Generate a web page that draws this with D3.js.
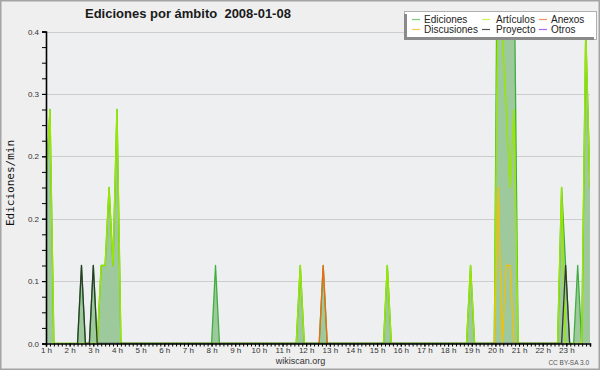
<!DOCTYPE html>
<html>
<head>
<meta charset="utf-8">
<script src="https://cdnjs.cloudflare.com/ajax/libs/d3/7.8.5/d3.min.js"></script>
<style>
body { margin: 0; background: #efefef; }
svg { display: block; }
</style>
</head>
<body>
<script>
"use strict"

// hours (decimal) and edits per minute
const ediciones = [
	[1.0, 0.2], [1.167, 0.3], [1.333, 0],
	[2.333, 0], [2.5, 0.1], [2.667, 0],
	[2.833, 0], [3.0, 0.1], [3.167, 0], [3.333, 0.1], [3.5, 0.1], [3.667, 0.2], [3.833, 0.1], [4.0, 0.3], [4.167, 0],
	[8.0, 0], [8.167, 0.1], [8.333, 0],
	[11.58, 0], [11.75, 0.1], [11.92, 0],
	[12.55, 0], [12.72, 0.1], [12.89, 0],
	[15.27, 0], [15.43, 0.1], [15.6, 0],
	[18.78, 0], [18.95, 0.1], [19.12, 0],
	[19.955, 0], [20.12, 0.7], [20.29, 0.7], [20.46, 0.6], [20.62, 0.6], [20.79, 0.5], [20.96, 0],
	[22.63, 0], [22.8, 0.2], [22.97, 0.1], [23.14, 0],
	[23.31, 0], [23.48, 0.1], [23.65, 0], [23.82, 0.4], [24.0, 0.2]
];
const articulos = [
	[1.0, 0.2], [1.167, 0.3], [1.333, 0],
	[3.167, 0], [3.333, 0.1], [3.5, 0.1], [3.667, 0.2], [3.833, 0.1], [4.0, 0.3], [4.167, 0],
	[11.58, 0], [11.75, 0.1], [11.92, 0],
	[15.27, 0], [15.43, 0.1], [15.6, 0],
	[18.78, 0], [18.95, 0.1], [19.12, 0],
	[19.955, 0], [20.12, 0.5], [20.29, 0.4], [20.46, 0.3], [20.62, 0.2], [20.79, 0.3], [20.96, 0],
	[22.63, 0], [22.8, 0.2], [22.97, 0],
	[23.65, 0], [23.82, 0.4], [24.0, 0.2]
];
const anexos = [[12.55, 0], [12.72, 0.1], [12.89, 0]];
const discusiones = [[19.955, 0], [20.12, 0.2], [20.29, 0], [20.46, 0.1], [20.62, 0.1], [20.79, 0]];
const proyecto = [
	[2.333, 0], [2.5, 0.1], [2.667, 0],
	[2.833, 0], [3.0, 0.1], [3.167, 0],
	[22.8, 0], [22.97, 0.1], [23.14, 0]
];
const otros = [];

const yTicks = [0, 0.08, 0.16, 0.24, 0.32, 0.4];
const hourTicks = d3.range(1, 24);
const legendNames = ["Ediciones", "Artículos", "Anexos", "Discusiones", "Proyecto", "Otros"];

const w = 600;
const h = 370;
const padLeft = 46, padRight = 590, padTop = 31.5, padBottom = 343.5;

const svg = d3.select("body")
	.append("svg")
	.attr("width", w)
	.attr("height", h)
	.style("font-family", "'Liberation Sans', Arial, sans-serif");

svg.append("rect")
	.attr("x", 0.75).attr("y", 0.75)
	.attr("width", w - 1.5).attr("height", h - 1.5)
	.attr("fill", "#efefef")
	.attr("stroke", "#a4a4a4")
	.attr("stroke-width", 1.5);

svg.append("rect")
	.attr("x", padLeft).attr("y", padTop)
	.attr("width", padRight - padLeft).attr("height", padBottom - padTop)
	.attr("fill", "#eeeff1");

const xScale = d3.scaleLinear()
	.domain([1, 24])
	.range([padLeft, padRight]);
const yScale = d3.scaleLinear()
	.domain([0, 0.4])
	.range([padBottom, padTop]);

// grid
svg.append("g")
	.selectAll("line")
	.data(yTicks.slice(1))
	.enter()
	.append("line")
	.attr("x1", padLeft).attr("x2", padRight)
	.attr("y1", d => Math.round(yScale(d)) + 0.5)
	.attr("y2", d => Math.round(yScale(d)) + 0.5)
	.attr("stroke", "#cdcdcd");

svg.append("clipPath")
	.attr("id", "plot")
	.append("rect")
	.attr("x", padLeft).attr("y", padTop)
	.attr("width", padRight - padLeft).attr("height", padBottom - padTop);

const plot = svg.append("g").attr("clip-path", "url(#plot)");

const area = d3.area()
	.x(d => xScale(d[0]))
	.y0(yScale(0))
	.y1(d => yScale(d[1]));
const line = d3.line()
	.x(d => xScale(d[0]))
	.y(d => yScale(d[1]));

plot.append("path")
	.datum(ediciones)
	.attr("d", area)
	.attr("fill", "#9dc99d");

const series = [
	[ediciones, "#3fae3f", 1.3],
	[articulos, "#99e600", 1.5],
	[discusiones, "#f5c000", 1.3],
	[anexos, "#f26a10", 1.3],
	[proyecto, "#2e3a2e", 1.3],
	[otros, "#9944ee", 1.3]
];

plot.selectAll(".serie")
	.data(series.filter(s => s[0].length))
	.enter()
	.append("path")
	.attr("class", "serie")
	.attr("d", s => line(s[0]))
	.attr("fill", "none")
	.attr("stroke", s => s[1])
	.attr("stroke-width", s => s[2])
	.attr("stroke-linejoin", "round");

// axes
const yMinor = d3.axisLeft(yScale)
	.tickValues(d3.range(0, 0.401, 0.02))
	.tickSize(4)
	.tickFormat("");
svg.append("g")
	.attr("transform", "translate(" + padLeft + ",0)")
	.call(yMinor)
	.call(g => g.select(".domain").remove());

const yAxis = d3.axisLeft(yScale)
	.tickValues(yTicks)
	.tickSize(4)
	.tickPadding(3)
	.tickFormat(d => d.toFixed(1));
svg.append("g")
	.attr("id", "y-axis")
	.attr("transform", "translate(" + padLeft + ",0)")
	.call(yAxis);

const xMinor = d3.axisBottom(xScale)
	.tickValues(d3.range(0, 139).map(i => 1 + i / 6))
	.tickSize(3)
	.tickFormat("");
svg.append("g")
	.attr("transform", "translate(0," + padBottom + ")")
	.call(xMinor)
	.call(g => g.select(".domain").remove());

const xAxis = d3.axisBottom(xScale)
	.tickValues(hourTicks)
	.tickSize(3)
	.tickPadding(1)
	.tickFormat(d => d + " h");
svg.append("g")
	.attr("id", "x-axis")
	.attr("transform", "translate(0," + padBottom + ")")
	.call(xAxis);

svg.selectAll(".tick text")
	.attr("font-family", "'Liberation Sans', Arial, sans-serif")
	.attr("font-size", 8)
	.attr("fill", "#333");
svg.selectAll(".tick line").attr("stroke", "#000");
svg.selectAll(".domain").attr("stroke", "#000").attr("stroke-width", 1.6);

// texts
svg.append("text")
	.attr("x", 85).attr("y", 17.5)
	.attr("font-size", 13)
	.attr("font-weight", "bold")
	.attr("fill", "#1a1a1a")
	.style("white-space", "pre")
	.text("Ediciones por ámbito  2008-01-08");

svg.append("text")
	.attr("transform", "translate(14,183) rotate(-90)")
	.attr("text-anchor", "middle")
	.attr("font-family", "'DejaVu Sans Mono', monospace")
	.attr("font-size", 11)
	.attr("fill", "#111")
	.text("Ediciones/min");

svg.append("text")
	.attr("x", 300.5).attr("y", 364)
	.attr("text-anchor", "middle")
	.attr("font-size", 9)
	.attr("fill", "#333")
	.text("wikiscan.org");

svg.append("text")
	.attr("x", 589).attr("y", 365)
	.attr("text-anchor", "end")
	.attr("font-size", 6.5)
	.attr("fill", "#555")
	.text("CC BY-SA 3.0");

// legend
const legend = svg.append("g").attr("id", "legend");
legend.append("rect")
	.attr("x", 404.5).attr("y", 11.5)
	.attr("width", 192).attr("height", 28)
	.attr("fill", "#fff")
	.attr("stroke", "#b0b0b0");
legend.append("rect")
	.attr("x", 404).attr("y", 14)
	.attr("width", 3).attr("height", 26)
	.attr("fill", "#8a8a8a");
legend.append("rect")
	.attr("x", 404).attr("y", 37)
	.attr("width", 190).attr("height", 3)
	.attr("fill", "#8a8a8a");

const legendColors = ["#77cc77", "#ccf060", "#f59060", "#f8cc50", "#555555", "#aa66ee"];
const colX = [412, 482, 539];
const rowY = [19.5, 29.5];
const items = legend.selectAll(".item")
	.data(legendNames)
	.enter()
	.append("g")
	.attr("class", "item")
	.attr("transform", (d, i) => "translate(" + colX[i % 3] + "," + rowY[Math.floor(i / 3)] + ")");
items.append("line")
	.attr("x1", 0).attr("x2", 8)
	.attr("stroke", (d, i) => legendColors[i])
	.attr("stroke-width", 1.2);
items.append("text")
	.attr("x", (d, i) => i % 3 === 1 ? 14 : 12)
	.attr("y", 3.5)
	.attr("font-size", 10)
	.attr("fill", "#222")
	.text(d => d);
</script>
</body>
</html>
